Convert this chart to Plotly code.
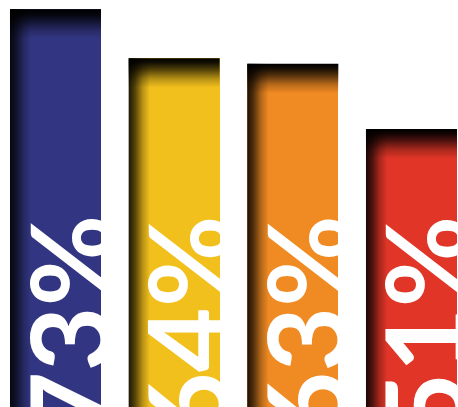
import plotly.graph_objects as go

categories = ["A", "B", "C", "D"]
values = [73, 64, 63, 51]
labels = ["73%", "64%", "63%", "51%"]
colors = ["#323682", "#F2C01C", "#F08A22", "#E03527"]

xs = list(range(len(values)))
bar_w = 0.767
top_d = 5.4      # top inner shadow depth (y units)
left_d = 0.18    # left inner shadow width (x units)

shadow_scale_v = [[0, "rgba(0,0,0,0)"], [0.3, "rgba(0,0,0,0.25)"], [0.6, "rgba(0,0,0,0.65)"],
                  [0.85, "rgba(0,0,0,0.92)"], [1, "rgba(0,0,0,1)"]]
shadow_scale_h = [[0, "rgba(0,0,0,0.88)"], [0.3, "rgba(0,0,0,0.65)"], [0.65, "rgba(0,0,0,0.25)"],
                  [1, "rgba(0,0,0,0)"]]

fig = go.Figure()
fig.add_trace(go.Bar(x=xs, y=values, width=bar_w, marker=dict(color=colors, line=dict(width=0)),
                     hoverinfo="skip", textposition="none"))

for x, v in zip(xs, values):
    x0, x1 = x - bar_w / 2, x + bar_w / 2
    # left shadow
    fig.add_trace(go.Scatter(x=[x0, x0 + left_d, x0 + left_d, x0, x0], y=[0, 0, v, v, 0],
                             fill="toself", mode="lines", line=dict(width=0),
                             fillgradient=dict(type="horizontal", colorscale=shadow_scale_h,
                                               start=x0, stop=x0 + left_d),
                             hoverinfo="skip", showlegend=False))
    # top shadow
    fig.add_trace(go.Scatter(x=[x0, x1, x1, x0, x0], y=[v - top_d, v - top_d, v, v, v - top_d],
                             fill="toself", mode="lines", line=dict(width=0),
                             fillgradient=dict(type="vertical", colorscale=shadow_scale_v,
                                               start=v - top_d, stop=v),
                             hoverinfo="skip", showlegend=False))

for x, t in zip(xs, labels):
    fig.add_annotation(x=x, xref="x", y=0, yref="paper", text=t, textangle=-90,
                       xanchor="center", yanchor="bottom", showarrow=False,
                       xshift=11, yshift=-32,
                       font=dict(family="Lato", size=112, color="white", weight="bold"))

fig.update_layout(width=458, height=407, margin=dict(l=0, r=0, t=0, b=0),
                  paper_bgcolor="white", plot_bgcolor="white", showlegend=False,
                  bargap=0,
                  xaxis=dict(range=[-0.4677, 3.392], visible=False, fixedrange=True),
                  yaxis=dict(range=[0, 74.68], visible=False, fixedrange=True))
fig.write_html("out.html", config={"displayModeBar": False})
